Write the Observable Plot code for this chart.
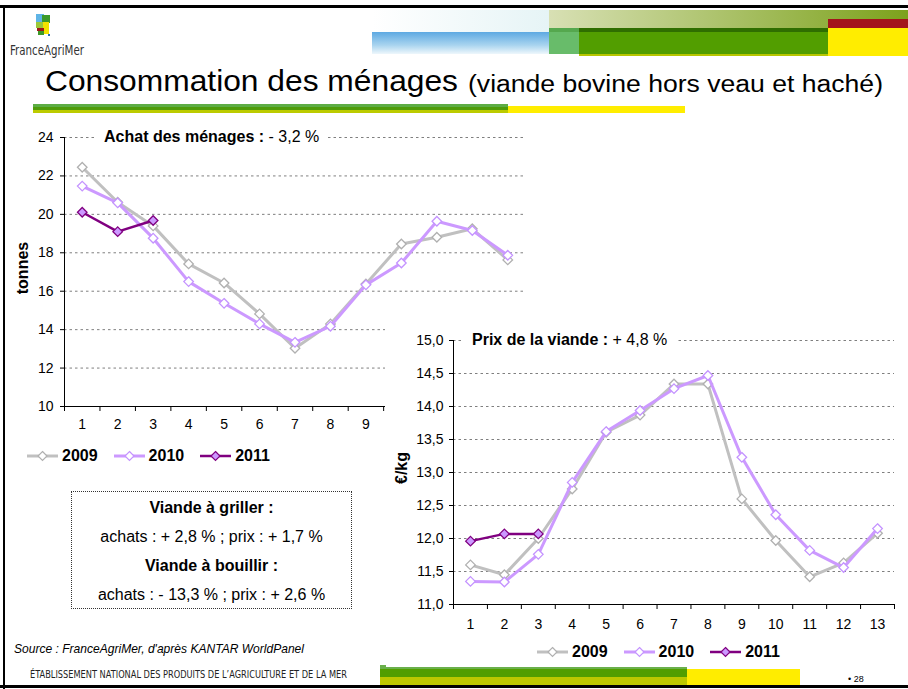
<!DOCTYPE html>
<html><head><meta charset="utf-8">
<script src="https://cdn.jsdelivr.net/npm/d3@7"></script>
<script src="https://cdn.jsdelivr.net/npm/@observablehq/plot@0.6"></script>
<style>
body{margin:0;background:#fff;font-family:Arial,"Liberation Sans",sans-serif;}
#slide{position:relative;width:908px;height:689px;overflow:hidden;background:#fff;}
.a{position:absolute;}
.fit{white-space:nowrap;display:inline-block;transform-origin:left center;}
.leg{display:flex;align-items:center;font-weight:bold;font-size:16px;height:18px;}
.leg .it{display:flex;align-items:center;margin-right:16px;}
.leg svg{margin-right:4px;}
.note{background:#fff;font-size:16px;white-space:nowrap;height:16px;line-height:16px;}
.ylab{font-weight:bold;font-size:16px;transform:translate(-50%,-50%) rotate(-90deg);white-space:nowrap;}
#box{left:71px;top:491px;width:279px;height:115px;border:1px dotted #333;text-align:center;font-size:16px;line-height:29px;padding-top:1px;}
</style></head><body><div id="slide">
<!-- header decoration -->
<div class="a" style="left:0;top:5px;width:908px;height:3px;background:#000"></div>
<div class="a" style="left:3px;top:5px;width:2px;height:684px;background:#000"></div>
<div class="a" style="left:0;top:685px;width:908px;height:3px;background:#000"></div>
<div class="a" style="left:372px;top:10px;width:177px;height:22px;background:linear-gradient(to right,#fff,#e6f4f6)"></div>
<div class="a" style="left:372px;top:32px;width:177px;height:22px;background:linear-gradient(to bottom,#5da9e2,#a9d4ef 60%,#eef7fc)"></div>
<div class="a" style="left:549px;top:10px;width:359px;height:18px;background:linear-gradient(to right,#d8e0b4,#7ca21c)"></div>
<div class="a" style="left:549px;top:28px;width:30px;height:26px;background:#68bc6a"></div>
<div class="a" style="left:549px;top:28px;width:30px;height:4px;background:#55a84e"></div>
<div class="a" style="left:579px;top:28px;width:249px;height:4px;background:#2f6e00"></div>
<div class="a" style="left:579px;top:32px;width:249px;height:22px;background:#529e00"></div>
<div class="a" style="left:579px;top:54px;width:249px;height:2px;background:#b8c600"></div>
<div class="a" style="left:828px;top:19px;width:80px;height:9px;background:#a3151b"></div>
<div class="a" style="left:828px;top:28px;width:80px;height:28px;background:#ffed00"></div>
<!-- logo -->
<div class="a" style="left:36px;top:14px;width:8px;height:10px;background:#5fb4e6"></div>
<div class="a" style="left:42px;top:15px;width:8px;height:8px;background:#3c9a2a"></div>
<div class="a" style="left:36px;top:22px;width:7px;height:6px;background:#9bc83a"></div>
<div class="a" style="left:43px;top:22px;width:6px;height:12px;background:#f2e400"></div>
<div class="a" style="left:37px;top:28px;width:7px;height:3px;background:#a01818"></div>
<div class="a" style="left:38px;top:31px;width:6px;height:4px;background:#3c9a2a"></div>
<div class="a" style="left:48px;top:34px;width:2px;height:2px;background:#2a6fb0"></div>
<div class="a" style="left:10px;top:41px;"><span id="logoTxt" class="fit" style="font-family:'Liberation Sans Narrow','DejaVu Sans Condensed',sans-serif;font-size:14px;color:#333;">FranceAgriMer</span></div>
<!-- title -->
<div class="a" style="left:45px;top:64px;"><span id="t1" class="fit" style="font-size:30px;">Consommation des ménages</span></div>
<div class="a" style="left:468px;top:71px;"><span id="t2" class="fit" style="font-size:23px;">(viande bovine hors veau et haché)</span></div>
<div class="a" style="left:33px;top:104px;width:475px;height:3px;background:#5dad45"></div>
<div class="a" style="left:33px;top:107px;width:475px;height:3px;background:#4f9c0a"></div>
<div class="a" style="left:33px;top:110px;width:475px;height:3px;background:#bccb00"></div>
<div class="a" style="left:508px;top:106px;width:177px;height:7px;background:#ffed00"></div>
<!-- footer -->
<div class="a" style="left:380px;top:665px;width:6px;height:3px;background:#6ab04c"></div>
<div class="a" style="left:380px;top:667px;width:307px;height:2px;background:#6ab04c"></div>
<div class="a" style="left:380px;top:669px;width:307px;height:8px;background:#529e00"></div>
<div class="a" style="left:380px;top:677px;width:307px;height:8px;background:#bcc800"></div>
<div class="a" style="left:687px;top:669px;width:113px;height:16px;background:#ffed00"></div>
<div class="a" style="left:848px;top:674px;font-size:9px;">• 28</div>
<div class="a" style="left:30px;top:664px;"><span id="foot" class="fit" style="font-family:'Liberation Sans Narrow','DejaVu Sans Condensed',sans-serif;font-size:10px;color:#222;">ÉTABLISSEMENT NATIONAL DES PRODUITS DE L’AGRICULTURE ET DE LA MER</span></div>
<div class="a" style="left:14px;top:639px;"><span id="src" class="fit" style="font-size:13px;font-style:italic;">Source : FranceAgriMer, d'après KANTAR WorldPanel</span></div>
<div id="box" class="a"><b>Viande à griller :</b><br>achats : + 2,8 % ; prix : + 1,7 %<br><b>Viande à bouillir :</b><br>achats : - 13,3 % ; prix : + 2,6 %</div>
</div>
<script>
// ---- data ----
const months = [1,2,3,4,5,6,7,8,9,10,11,12,13];
const years = ["2009","2010","2011"];
const achat2009 = [22.45,20.63,19.40,17.42,16.43,14.82,13.03,14.30,16.38,18.46,18.81,19.25,17.63];
const achat2010 = [21.47,20.60,18.76,16.50,15.37,14.30,13.34,14.18,16.33,17.47,19.64,19.16,17.87];
const achat2011 = [20.11,19.10,19.68];
const prix2009 = [11.60,11.45,12.00,12.75,13.61,13.87,14.34,14.34,12.60,11.97,11.42,11.63,12.08];
const prix2010 = [11.35,11.34,11.76,12.85,13.62,13.94,14.27,14.47,13.23,12.36,11.82,11.56,12.15];
const prix2011 = [11.96,12.07,12.07];
const achatTicks = [10,12,14,16,18,20,22,24];
const prixTicks = [11.0,11.5,12.0,12.5,13.0,13.5,14.0,14.5,15.0];
const achatNote = ["Achat des ménages :", " - 3,2 %"];
const prixNote = ["Prix de la viande :", " + 4,8 %"];

const styles = {
  "2009": {line:"#c0c0c0", width:3, dotFill:"#fff", dotStroke:"#b0b0b0"},
  "2010": {line:"#cc99ff", width:3, dotFill:"#fff", dotStroke:"#c493ff"},
  "2011": {line:"#800080", width:2.5, dotFill:"#cc99ff", dotStroke:"#800080"}
};

const slide = document.getElementById("slide");
const bounds = months.map(m => m - 0.5).concat([months[months.length-1] + 0.5]);

function rows(year, values){ return values.map((v,i)=>({period: months[i], value: v, year})); }

function makeChart({series, yDomain, yTicks, tickFmt, width, height, margin, bg, xPad, yPad}){
  const marks = [
    Plot.ruleY(yTicks.slice(1), {stroke:"#7f7f7f", strokeDasharray:"2.5,3", strokeWidth:1}),
    Plot.axisY(yTicks, {tickSize:4, tickPadding:yPad, tickFormat:tickFmt, label:null}),
    Plot.axisX(bounds, {tickSize:5, tickFormat:()=>"", label:null}),
    Plot.axisX(months, {tickSize:0, tickPadding:xPad, label:null}),
    Plot.ruleX([bounds[0]], {stroke:"#000"}),
    Plot.ruleY([yDomain[0]], {stroke:"#000"})
  ];
  for (const [year, values] of series){
    const s = styles[year], d = rows(year, values);
    marks.push(Plot.line(d, {x:"period", y:"value", stroke:s.line, strokeWidth:s.width}));
    marks.push(Plot.dot(d, {x:"period", y:"value", symbol:"diamond2", r:4.3, fill:s.dotFill, stroke:s.dotStroke, strokeWidth:1.3}));
  }
  return Plot.plot({
    width, height, marginLeft:margin[0], marginRight:margin[1], marginTop:margin[2], marginBottom:margin[3],
    x:{domain:[bounds[0], bounds[bounds.length-1]]},
    y:{domain:yDomain},
    style:{fontFamily:"Arial, 'Liberation Sans', sans-serif", fontSize:"14px", background:bg, color:"#000", overflow:"visible"},
    marks
  });
}

function place(el, left, top){ el.style.position="absolute"; el.style.left=left+"px"; el.style.top=top+"px"; slide.appendChild(el); return el; }

const top1 = makeChart({series:[["2009",achat2009],["2010",achat2010],["2011",achat2011]],
  yDomain:[10,24], yTicks:achatTicks, tickFmt:d=>String(d), width:540, height:315, margin:[64,15,12,34], bg:"transparent", xPad:13, yPad:7});
place(top1, 0, 125);

function note(parts, left, top){
  const d = document.createElement("div"); d.className="a note";
  d.style.padding="0 9px";
  d.innerHTML = `<b>${parts[0]}</b>${parts[1]}`;
  place(d, left, top);
}
note(achatNote, 95, 129);

const bot = makeChart({series:[["2009",prix2009],["2010",prix2010],["2011",prix2011]],
  yDomain:[11,15], yTicks:prixTicks, tickFmt:d=>d.toFixed(1).replace(".",","), width:523, height:318, margin:[68,14,22,32], bg:"#fff", xPad:15, yPad:6});
place(bot, 385, 318);
note(prixNote, 463, 332);

function ylab(text, cx, cy){
  const d = document.createElement("div"); d.className="a ylab"; d.textContent=text;
  d.style.left=cx+"px"; d.style.top=cy+"px"; slide.appendChild(d);
}
ylab("tonnes", 23, 268);
ylab("€/kg", 402, 468);

function swatch(year){
  const s = styles[year];
  return `<svg width="31" height="12"><line x1="0" x2="31" y1="6" y2="6" stroke="${s.line}" stroke-width="${s.width}"/>`+
    `<polygon points="15.5,1.5 20,6 15.5,10.5 11,6" fill="${s.dotFill}" stroke="${s.dotStroke}" stroke-width="1.2"/></svg>`;
}
function legend(left, cy){
  const d = document.createElement("div"); d.className="a leg";
  d.innerHTML = years.map(y => `<div class="it">${swatch(y)}<span>${y}</span></div>`).join("");
  place(d, left, cy-9);
}
legend(27, 456);
legend(537, 652);

function fit(id, w){
  const el = document.getElementById(id);
  const r = el.getBoundingClientRect().width;
  el.style.transform = `scaleX(${w/r})`;
}
fit("t1", 413); fit("t2", 415); fit("foot", 317); fit("src", 290); fit("logoTxt", 74);
</script>
</body></html>
